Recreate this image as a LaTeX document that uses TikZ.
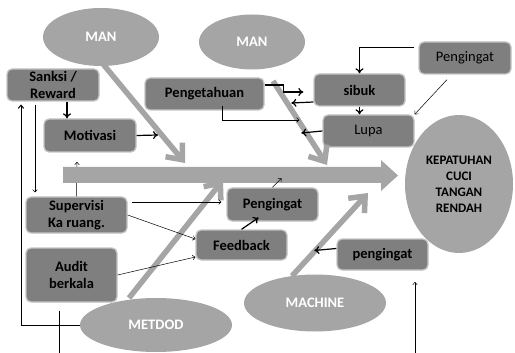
\documentclass[tikz,border=0pt]{standalone}
\usepackage{fontspec}
\setmainfont{Carlito}
\usetikzlibrary{arrows.meta,shapes.geometric}
\definecolor{boxfill}{HTML}{7F7F7F}
\definecolor{boxedge}{HTML}{C4C4C4}
\definecolor{ellfill}{HTML}{A5A5A5}
\definecolor{bonecol}{HTML}{A5A5A5}
\begin{document}
\begin{tikzpicture}[x=1pt,y=-1pt,
  box/.style={draw=boxedge, line width=1.3pt, fill=boxfill, rounded corners=5pt,
    font=\fontsize{14.5}{16.5}\selectfont\bfseries, align=center, inner sep=0pt},
  boxn/.style={box, font=\fontsize{14.5}{16.5}\selectfont},
  ell/.style={ellipse, fill=ellfill, text=white,
    font=\fontsize{14.5}{16.5}\selectfont\bfseries, align=center, inner sep=0pt},
  bone/.style={draw=bonecol, line width=5.5pt, -{Straight Barb[length=13pt,width=22pt]}},
  thinarr/.style={draw=black, line width=0.5pt, -{To[length=3pt,width=5pt]}},
  thickarr/.style={draw=black, line width=1.2pt, -{To[length=5pt,width=8pt]}},
  medarr/.style={draw=black, line width=1pt, -{To[length=4pt,width=6pt]}},
  thinline/.style={draw=black, line width=0.5pt}]
\useasboundingbox (0,0) rectangle (515,353);

% ellipses
\node[ell, minimum width=116pt, minimum height=58pt] (man1) at (101,37) {MAN};
\node[ell, minimum width=106pt, minimum height=55pt] (man2) at (252,42) {MAN};
\node[ell, minimum width=152pt, minimum height=54pt] (metdod) at (156,325) {METDOD};
\node[ell, minimum width=142pt, minimum height=57pt] (machine) at (315,303) {MACHINE};
\node[ell, minimum width=108pt, minimum height=138pt, text=black,
  font=\fontsize{13}{16}\selectfont\bfseries] (kep) at (459,184) {KEPATUHAN\\CUCI\\TANGAN\\RENDAH};

\coordinate (m2) at (77,162);

% boxes
\node[box, minimum width=92pt, minimum height=32pt] (sanksi) at (53,85) {Sanksi /\\Reward};
\node[box, minimum width=92pt, minimum height=33pt] (motivasi) at (90,135.5) {Motivasi};
\node[box, minimum width=119pt, minimum height=32pt] (pengetahuan) at (204.5,94) {Pengetahuan};
\node[box, minimum width=91pt, minimum height=32pt] (sibuk) at (359.5,90) {sibuk};
\node[boxn, minimum width=91pt, minimum height=32pt] (lupa) at (368.5,131) {Lupa};
\node[boxn, minimum width=92pt, minimum height=32pt] (pengA) at (465,58) {Pengingat};
\node[box, minimum width=101pt, minimum height=36pt] (supervisi) at (76.5,215) {Supervisi\\Ka ruang.};
\node[box, minimum width=91pt, minimum height=54pt] (audit) at (71.5,275) {Audit\\berkala};
\node[box, minimum width=91pt, minimum height=30pt] (feedback) at (241.5,245) {Feedback};
\node[box, minimum width=91pt, minimum height=33pt] (pengB) at (272.5,204.5) {Pengingat};
\node[box, minimum width=91pt, minimum height=31pt] (pengC) at (382.5,254.5) {pengingat};

\draw[thinarr] (supervisi.north) -- (m2);

% spine
\fill[bonecol] (63,167) -- (381,167) -- (381,160) -- (398,175.5) -- (381,191) -- (381,183) -- (63,183) -- cycle;

% bones
\coordinate (s1) at (103,64);  \coordinate (t1) at (185,163);
\coordinate (s2) at (273,81);  \coordinate (t2) at (327,165);
\coordinate (s3) at (129,298); \coordinate (t3) at (223,180);
\coordinate (s4) at (292,276); \coordinate (t4) at (368,193);
\draw[bone] (s1) -- (t1);
\draw[bone] (s2) -- (t2);
\draw[bone] (s3) -- (t3);
\draw[bone] (s4) -- (t4);

% connectors
\draw[thickarr] ([xshift=14pt]sanksi.south) -- ([xshift=14pt]sanksi.south |- motivasi.north);
\coordinate (m1) at (158,135);
\draw[thickarr] (motivasi.east) -- (m1);
\draw[thinarr, shorten <=3pt, shorten >=4pt] ([xshift=-18pt]sanksi.south) -- ([xshift=-18pt]sanksi.south |- supervisi.north);
\draw[medarr, shorten >=3pt] (metdod.west) -| ([xshift=-32pt]sanksi.south);
\coordinate (a1) at (59,353);
\draw[thinline] ([xshift=-12.5pt,yshift=-8pt]audit.south) -- (a1);
\draw[thinarr] ([xshift=4pt,yshift=13pt]supervisi.east) -- ([xshift=-5pt,yshift=2.5pt]pengB.west);
\draw[thinarr] (supervisi.east) -- ([yshift=6pt]feedback.west);
\draw[thinarr] (audit.east) -- ([yshift=-12pt]feedback.west);
\draw[thickarr] (feedback.north) -- ([xshift=-14pt,yshift=4pt]pengB.south);
\draw[thinarr] (pengB.north) -- ++(9,-9);
\draw[thickarr] ([yshift=9pt]pengetahuan.east) -- ++(19,0) |- ([xshift=-10pt,yshift=-2pt]sibuk.west);
\draw[thickarr] ([yshift=-12pt]sibuk.west) -- ++(-22,1);
\draw[thinarr] ([xshift=18pt,yshift=5pt]pengetahuan.south) |- ([xshift=-23pt,yshift=11pt]lupa.west);
\draw[thickarr] (lupa.west) -- ++(-21,2);
\draw[thickarr] (sibuk.south) -- (sibuk.south |- lupa.north);
\coordinate (k) at (359.5,47);
\draw[thinline] ([xshift=-4pt,yshift=11pt]pengA.west) -- (k);
\draw[thickarr] (k) -- (sibuk.north);
\draw[thinarr] ([xshift=-18pt,yshift=-5pt]pengA.south) -- (lupa.north east);
\draw[thickarr] ([yshift=6pt]pengC.west) -- ++(-22,2);
\coordinate (b1) at (415,353); \coordinate (b2) at (415,282);
\draw[thinarr] (b1) -- (b2);
\end{tikzpicture}
\end{document}
